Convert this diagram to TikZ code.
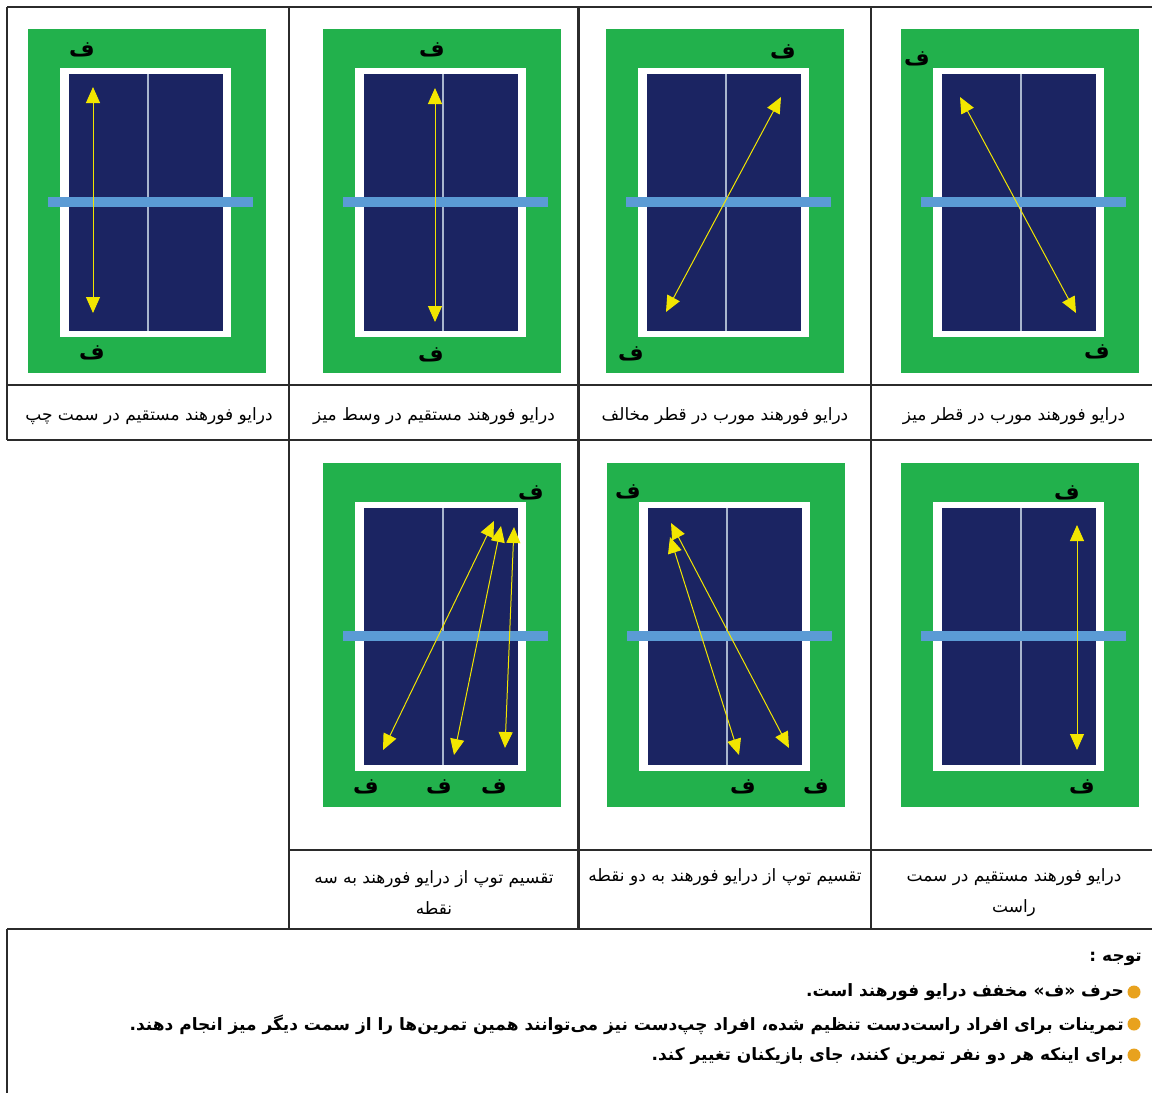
\documentclass[tikz,border=0pt]{standalone}
\usepackage{fontspec}
\usepackage{xcolor}
\usepackage{tikz}
\usetikzlibrary{arrows.meta}
\TeXXeTstate=1
\newfontfamily\fafont[Script=Arabic]{DejaVu Sans}
\definecolor{tgreen}{HTML}{22B14C}
\definecolor{tnavy}{HTML}{1B2462}
\definecolor{tnet}{HTML}{5B9BD5}
\definecolor{tmid}{HTML}{A9B6CE}
\definecolor{tyel}{HTML}{F2E600}
\definecolor{tline}{HTML}{2B2B2B}
\definecolor{tdot}{HTML}{E8A21E}

\begin{document}
\begin{tikzpicture}[x=1pt, y=-1pt,
  rule/.style={draw=tline, line width=2.2pt},
  ff/.style={font=\fafont\bfseries\fontsize{22}{22}\selectfont, inner sep=0pt},
  capt/.style={font=\fafont\fontsize{17}{31}\selectfont, align=center, inner sep=0pt},
  note/.style={font=\fafont\bfseries\fontsize{17}{20}\selectfont, anchor=east, inner sep=0pt},
  bul/.style={circle, fill=tdot, minimum size=13pt, inner sep=0pt},
  ball/.style={{Triangle[length=16pt,width=14pt]}-{Triangle[length=16pt,width=14pt]}, tyel, line width=1pt}]
\useasboundingbox (0,0) rectangle (1152,1093);
\fill[white] (0,0) rectangle (1152,1093);
\foreach \gx/\gy in {28/29, 323/29, 606/29, 901/29, 323/463, 607/463, 901/463} {
  \fill[tgreen] (\gx,\gy) rectangle ++(238,344);
  \fill[white] (\gx+32,\gy+39) rectangle ++(171,269);
  \fill[tnavy] (\gx+41,\gy+45) rectangle ++(154,257);
  \draw[tmid, line width=1.2pt] (\gx+120,\gy+45) -- ++(0,257);
  \fill[tnet] (\gx+20,\gy+168) rectangle ++(205,10);
}
\draw[rule] (7,7) -- (1152,7) (7,385) -- (1152,385) (7,440) -- (1152,440)
  (289,850) -- (1152,850) (7,929) -- (1152,929);
\draw[rule] (7,7) -- (7,440) (7,929) -- (7,1093) (289,7) -- (289,929)
  (578.5,7) -- (578.5,929) (871,7) -- (871,929);
\node[ff] (fa1) at (82,50) {ف};
\node[ff] (fa2) at (92,353) {ف};
\node[ff] (fb1) at (432,50) {ف};
\node[ff] (fb2) at (431,355) {ف};
\node[ff] (fc1) at (783,52) {ف};
\node[ff] (fc2) at (631,354) {ف};
\node[ff] (fd1) at (917,59) {ف};
\node[ff] (fd2) at (1097,352) {ف};
\node[ff] (fe1) at (531,493) {ف};
\node[ff] (fe2) at (366,787) {ف};
\node[ff] (fe3) at (439,787) {ف};
\node[ff] (fe4) at (494,787) {ف};
\node[ff] (fg1) at (628,492) {ف};
\node[ff] (fg2) at (743,787) {ف};
\node[ff] (fg3) at (816,787) {ف};
\node[ff] (fh1) at (1067,493) {ف};
\node[ff] (fh2) at (1082,787) {ف};
\coordinate (a1) at (93,87); \coordinate (a2) at (93,313);
\coordinate (b1) at (435,88); \coordinate (b2) at (435,322);
\coordinate (c1) at (781,97); \coordinate (c2) at (666,312);
\coordinate (d1) at (960,97); \coordinate (d2) at (1076,313);
\coordinate (e1) at (494,521); \coordinate (e2) at (383,750);
\coordinate (e3) at (501,526); \coordinate (e4) at (454,755);
\coordinate (e5) at (514,527); \coordinate (e6) at (505,748);
\coordinate (g1) at (670,537); \coordinate (g2) at (739,755);
\coordinate (g3) at (671,523); \coordinate (g4) at (789,748);
\coordinate (h1) at (1077,525); \coordinate (h2) at (1077,750);
\draw[ball] (a1) -- (a2); \draw[ball] (b1) -- (b2); \draw[ball] (c1) -- (c2); \draw[ball] (d1) -- (d2);
\draw[ball] (e1) -- (e2); \draw[ball] (e3) -- (e4); \draw[ball] (e5) -- (e6);
\draw[ball] (g1) -- (g2); \draw[ball] (g3) -- (g4); \draw[ball] (h1) -- (h2);
\node[capt] (ca) at (149,416) {\beginR درایو فورهند مستقیم در سمت چپ\endR};
\node[capt] (cb) at (434,416) {\beginR درایو فورهند مستقیم در وسط میز\endR};
\node[capt] (cc) at (725,416) {\beginR درایو فورهند مورب در قطر مخالف\endR};
\node[capt] (cd) at (1014,416) {\beginR درایو فورهند مورب در قطر میز\endR};
\node[capt] (ce) at (434,893) {\beginR تقسیم توپ از درایو فورهند به سه\endR\\\beginR نقطه\endR};
\node[capt] (cg) at (725,877) {\beginR تقسیم توپ از درایو فورهند به دو نقطه\endR};
\node[capt] (ch) at (1014,893) {\beginR درایو فورهند مستقیم در سمت\endR\\\beginR راست\endR};
\node[note] (nt) at (1142,959) {\beginR توجه :\endR};
\node[bul] (p1) at (1134,992) {};
\node[bul] (p2) at (1134,1024) {};
\node[bul] (p3) at (1134,1055) {};
\node[note] (n1) at (1124,992) {\beginR حرف «ف» مخفف درایو فورهند است.\endR};
\node[note] (n2) at (1124,1025) {\beginR تمرینات برای افراد راست‌دست تنظیم شده، افراد چپ‌دست نیز می‌توانند همین تمرین‌ها را از سمت دیگر میز انجام دهند.\endR};
\node[note] (n3) at (1124,1056) {\beginR برای اینکه هر دو نفر تمرین کنند، جای بازیکنان تغییر کند.\endR};
\end{tikzpicture}
\end{document}
